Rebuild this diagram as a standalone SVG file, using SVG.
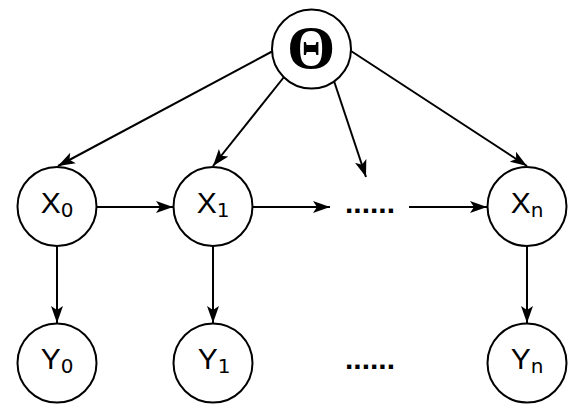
<svg xmlns="http://www.w3.org/2000/svg" width="581" height="411" viewBox="0 0 581 411">
<defs>
<marker id="arr" markerUnits="userSpaceOnUse" markerWidth="18" markerHeight="13" refX="17" refY="6.5" orient="auto" viewBox="0 0 18 13">
<path d="M0,0.5 L17,6.5 L0,12.5 L4,6.5 Z" fill="#000"/>
</marker>
</defs>
<style>
.n{fill:#fff;stroke:#000;stroke-width:2}
.e{stroke:#000;stroke-width:2;fill:none;marker-end:url(#arr)}
.t{font-family:"Liberation Sans",Arial,sans-serif;font-size:30px;fill:#000}
.s{font-family:"DejaVu Sans",sans-serif;font-size:20px;fill:#000}
.d{font-family:"Liberation Sans",Arial,sans-serif;font-size:30px;font-weight:bold;fill:#000}
</style>
<rect width="581" height="411" fill="#fff"/>
<g id="edges">
<line class="e" x1="273" y1="51" x2="58" y2="166"/>
<line class="e" x1="284" y1="77" x2="213" y2="166"/>
<line class="e" x1="334" y1="81" x2="366" y2="177"/>
<line class="e" x1="351" y1="51" x2="527" y2="166"/>
<line class="e" x1="97" y1="207" x2="173" y2="207"/>
<line class="e" x1="253" y1="207" x2="330" y2="207"/>
<line class="e" x1="409" y1="207" x2="487" y2="207"/>
<line class="e" x1="57" y1="246" x2="57" y2="323"/>
<line class="e" x1="213" y1="246" x2="213" y2="323"/>
<line class="e" x1="527" y1="246" x2="527" y2="323"/>
</g>
<g id="theta">
<circle class="n" cx="311.5" cy="49" r="39.5"/>
<text x="311" y="68" text-anchor="middle" font-family="Liberation Serif,Times New Roman,serif" font-weight="bold" font-size="62">Θ</text>
</g>
<g id="x0">
<circle class="n" cx="57" cy="206.5" r="39.5"/>
<text class="t" x="57" y="213" text-anchor="middle">X<tspan class="s" dy="4">0</tspan></text>
</g>
<g id="x1">
<circle class="n" cx="213" cy="206.5" r="39.5"/>
<text class="t" x="213" y="213" text-anchor="middle">X<tspan class="s" dy="4">1</tspan></text>
</g>
<g id="xdots">
<text class="d" x="370" y="213" text-anchor="middle">......</text>
</g>
<g id="xn">
<circle class="n" cx="527" cy="206.5" r="39.5"/>
<text class="t" x="527" y="213" text-anchor="middle">X<tspan class="s" dy="4">n</tspan></text>
</g>
<g id="y0">
<circle class="n" cx="57" cy="363" r="39.5"/>
<text class="t" x="57" y="369" text-anchor="middle">Y<tspan class="s" dy="4">0</tspan></text>
</g>
<g id="y1">
<circle class="n" cx="213" cy="363" r="39.5"/>
<text class="t" x="214" y="369" text-anchor="middle">Y<tspan class="s" dy="4">1</tspan></text>
</g>
<g id="ydots">
<text class="d" x="370" y="369" text-anchor="middle">......</text>
</g>
<g id="yn">
<circle class="n" cx="527" cy="363" r="39.5"/>
<text class="t" x="527" y="369" text-anchor="middle">Y<tspan class="s" dy="4">n</tspan></text>
</g>
</svg>
